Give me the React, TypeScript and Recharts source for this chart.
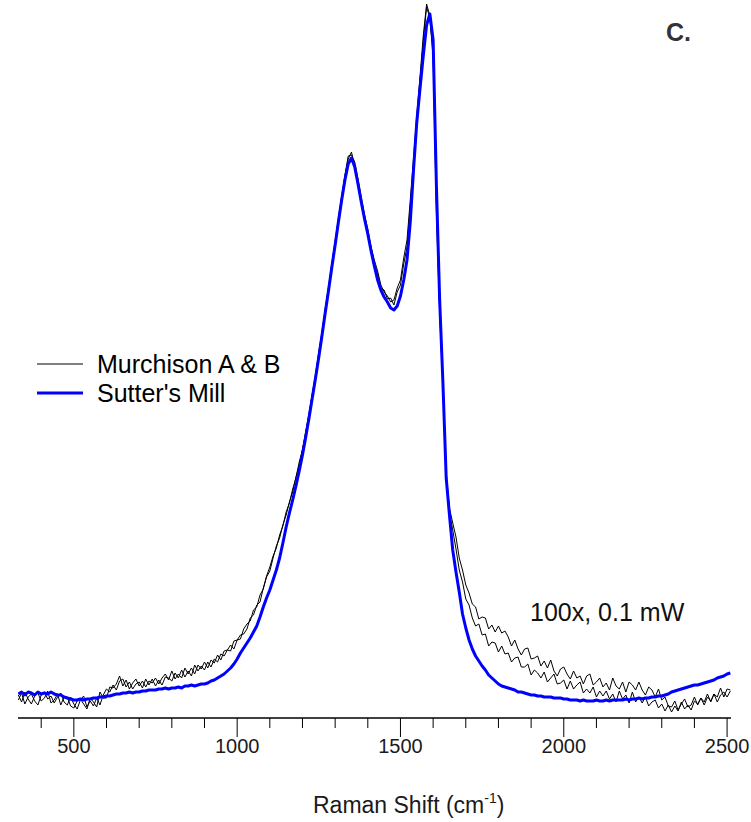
import React from 'react';
import { LineChart, Line, XAxis, YAxis, Legend, Customized } from 'recharts';

// Sampling grid of the spectra (cm^-1), 10 cm^-1 steps from 330 to 2510
const WAVENUMBERS: number[] = Array.from({ length: 219 }, (_, i) => 330 + i * 10);

// Raman intensity (arbitrary units), one value per wavenumber
const MURCHISON_A: number[] = [
  23, 16, 26, 19, 14, 22, 25, 17, 20, 27,
  15, 18, 24, 13, 21, 21, 12, 10, 17, 19,
  14, 9, 20, 16, 11, 26, 20, 20, 31, 30,
  34, 42, 32, 38, 29, 35, 39, 32, 37, 31,
  37, 35, 40, 34, 40, 44, 38, 47, 39, 44,
  40, 50, 44, 50, 44, 53, 49, 56, 50, 58,
  55, 63, 58, 67, 68, 67, 77, 78, 79, 89,
  94, 97, 108, 111, 123, 129, 142, 151, 162, 170,
  183, 192, 206, 215, 229, 240, 256, 268, 287, 303,
  324, 341, 365, 385, 409, 430, 454, 475, 499, 520,
  542, 559, 566, 551, 538, 516, 503, 485, 471, 454,
  444, 430, 428, 419, 420, 413, 426, 433, 454, 471,
  512, 553, 598, 638, 678, 711, 700, 660, 505, 405,
  330, 245, 210, 195, 181, 160, 148, 133, 125, 114,
  111, 99, 101, 100, 89, 93, 86, 92, 85, 87,
  81, 72, 78, 69, 63, 69, 70, 59, 60, 62,
  52, 57, 50, 58, 47, 42, 49, 51, 44, 39,
  47, 40, 42, 34, 42, 44, 33, 36, 40, 31,
  35, 28, 40, 32, 29, 36, 26, 36, 33, 28,
  36, 28, 23, 31, 28, 21, 29, 18, 21, 12,
  11, 17, 8, 14, 19, 11, 13, 21, 13, 20,
  16, 24, 16, 24, 21, 30, 21, 29, 28,
];

const MURCHISON_B: number[] = [
  18, 25, 14, 21, 24, 17, 13, 23, 26, 19,
  22, 15, 21, 25, 16, 13, 21, 14, 9, 18,
  22, 11, 17, 12, 20, 13, 23, 29, 26, 33,
  28, 37, 39, 31, 36, 29, 34, 36, 30, 39,
  33, 39, 32, 38, 33, 41, 40, 37, 45, 40,
  48, 41, 47, 42, 53, 47, 52, 48, 56, 51,
  59, 56, 64, 62, 68, 73, 69, 78, 83, 84,
  89, 100, 103, 113, 116, 130, 141, 147, 160, 172,
  180, 193, 203, 216, 226, 241, 253, 269, 285, 305,
  324, 344, 366, 387, 410, 432, 455, 477, 500, 522,
  543, 562, 563, 556, 539, 521, 503, 489, 471, 458,
  447, 433, 426, 422, 416, 418, 430, 438, 460, 478,
  518, 560, 603, 642, 683, 714, 702, 665, 515, 410,
  332, 242, 206, 188, 169, 148, 136, 119, 113, 100,
  92, 94, 83, 84, 72, 76, 75, 66, 72, 64,
  65, 56, 60, 61, 51, 51, 54, 43, 48, 45,
  40, 46, 36, 40, 44, 34, 35, 38, 29, 37,
  29, 33, 36, 25, 29, 25, 31, 21, 27, 22,
  27, 19, 24, 16, 27, 19, 23, 15, 26, 16,
  21, 15, 21, 12, 16, 18, 10, 14, 7, 13,
  6, 12, 7, 16, 9, 13, 8, 17, 14, 20,
  13, 21, 17, 24, 16, 23, 26, 21, 27,
];

const SUTTERS_MILL: number[] = [
  24, 26, 23, 26, 25, 23, 26, 24, 25, 24,
  26, 24, 23, 23, 21, 20, 19, 18, 18, 19,
  18, 19, 19, 20, 20, 21, 21, 22, 22, 23,
  24, 24, 25, 25, 26, 25, 26, 26, 27, 27,
  28, 28, 28, 29, 29, 30, 29, 30, 30, 31,
  30, 32, 32, 33, 32, 33, 34, 34, 35, 37,
  38, 40, 42, 44, 47, 50, 54, 59, 65, 70,
  75, 80, 86, 92, 101, 111, 120, 128, 138, 148,
  160, 175, 191, 205, 218, 232, 247, 263, 281, 300,
  320, 340, 361, 383, 406, 428, 451, 473, 496, 518,
  538, 554, 560, 551, 534, 516, 499, 484, 467, 452,
  438, 428, 421, 416, 410, 408, 412, 422, 438, 458,
  496, 548, 596, 630, 663, 693, 704, 678, 533, 418,
  335, 240, 203, 168, 146, 126, 104, 90, 78, 69,
  62, 57, 52, 48, 43, 40, 37, 34, 32, 31,
  30, 29, 28, 26, 26, 25, 24, 23, 23, 22,
  22, 21, 21, 21, 20, 20, 20, 19, 19, 18,
  18, 18, 17, 18, 17, 17, 17, 18, 17, 17,
  18, 17, 18, 18, 18, 18, 19, 18, 19, 19,
  20, 19, 20, 20, 21, 21, 22, 22, 23, 24,
  26, 27, 28, 29, 30, 31, 32, 33, 33, 34,
  35, 36, 37, 38, 40, 41, 42, 44, 45,
];

// Axis ticks: minor every 100 cm^-1, labelled every 500 cm^-1
const X_TICKS: number[] = [
  400, 500, 600, 700, 800, 900, 1000, 1100, 1200, 1300, 1400,
  1500, 1600, 1700, 1800, 1900, 2000, 2100, 2200, 2300, 2400, 2500,
];
const X_LABELS: number[] = [500, 1000, 1500, 2000, 2500];

const SERIES_NAMES = { a: 'Murchison A & B', s: "Sutter's Mill" };
const PANEL_LABEL = 'C.';
const CONDITIONS = '100x, 0.1 mW';

const FONT = '"Liberation Sans", Arial, Helvetica, sans-serif';

const data = WAVENUMBERS.map((w, i) => ({
  w,
  a: MURCHISON_A[i],
  b: MURCHISON_B[i],
  s: SUTTERS_MILL[i],
}));

const AxisTick = (props: any) => {
  const { x, y, payload } = props;
  const major = X_LABELS.includes(payload.value);
  return (
    <g>
      <line x1={x} x2={x} y1={y} y2={y + (major ? 19 : 10)} stroke="#000" strokeWidth={1} />
      {major && (
        <text x={x} y={y + 35} textAnchor="middle" fontFamily={FONT} fontSize={20} fill="#1a1a1a">
          {payload.value}
        </text>
      )}
    </g>
  );
};

const AxisTitle = (props: any) => {
  const vb = props.viewBox || { x: 18, y: 718, width: 713 };
  return (
    <text x={vb.x + 295} y={vb.y + 95} fontFamily={FONT} fontSize={23} fill="#1a1a1a">
      Raman Shift (cm
      <tspan fontSize={14} dy={-10}>-1</tspan>
      <tspan dy={10}>)</tspan>
    </text>
  );
};

const LegendBox = (props: any) => {
  const items = (props.payload || []).filter((p: any) => p.type !== 'none');
  return (
    <svg width={270} height={70} style={{ display: 'block' }}>
      {items.map((item: any, i: number) => (
        <g key={item.value}>
          <line
            x1={7}
            x2={53}
            y1={24 + i * 29}
            y2={24 + i * 29}
            stroke={item.color}
            strokeWidth={item.payload?.strokeWidth ?? 1}
          />
          <text x={67} y={33 + i * 29} fontFamily={FONT} fontSize={25} fill="#000">
            {item.value}
          </text>
        </g>
      ))}
    </svg>
  );
};

const Annotations = () => (
  <g>
    <text x={666} y={41} fontFamily={FONT} fontSize={25} fontWeight="bold" fill="#333">
      {PANEL_LABEL}
    </text>
    <text x={530} y={621} fontFamily={FONT} fontSize={25} fill="#111">
      {CONDITIONS}
    </text>
  </g>
);

export default function App() {
  return (
    <div style={{ position: 'absolute', left: 0, top: 0, width: 751, height: 822, background: '#fff' }}>
      <LineChart
        width={751}
        height={822}
        data={data}
        margin={{ top: 0, right: 20, bottom: 0, left: 18 }}
      >
        <XAxis
          dataKey="w"
          type="number"
          domain={[329, 2512]}
          allowDataOverflow
          ticks={X_TICKS}
          interval={0}
          height={104}
          tickSize={0}
          tickMargin={0}
          tickLine={false}
          tick={<AxisTick />}
          axisLine={{ stroke: '#000', strokeWidth: 1.5 }}
          label={<AxisTitle />}
        />
        <YAxis hide domain={[0, 718]} allowDataOverflow />
        <Legend
          content={<LegendBox />}
          layout="horizontal"
          verticalAlign="middle"
          align="center"
          wrapperStyle={{ left: 30, top: 340, width: 270, height: 70 }}
        />
        <Line
          dataKey="a"
          name={SERIES_NAMES.a}
          stroke="#000"
          strokeWidth={1}
          dot={false}
          isAnimationActive={false}
        />
        <Line
          dataKey="b"
          name="Murchison B"
          legendType="none"
          stroke="#000"
          strokeWidth={1}
          dot={false}
          isAnimationActive={false}
        />
        <Line
          dataKey="s"
          name={SERIES_NAMES.s}
          stroke="#0000ff"
          strokeWidth={3}
          strokeLinejoin="round"
          dot={false}
          isAnimationActive={false}
        />
        <Customized component={<Annotations />} />
      </LineChart>
    </div>
  );
}
